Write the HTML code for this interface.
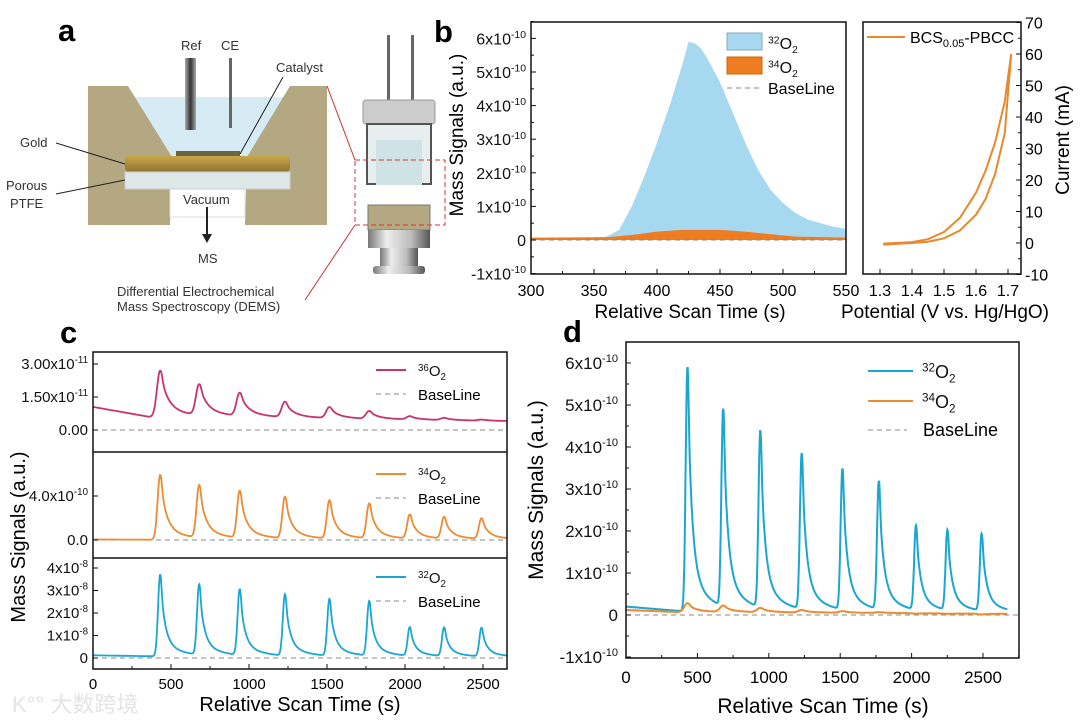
<!DOCTYPE html>
<html><head><meta charset="utf-8"><style>
html,body{margin:0;padding:0;background:#fff;width:1080px;height:723px;overflow:hidden}
svg{display:block;font-family:"Liberation Sans",Arial,sans-serif}
</style></head><body>
<svg id="fig" width="1080" height="723" viewBox="0 0 1080 723" xmlns="http://www.w3.org/2000/svg">
<defs>
<linearGradient id="gold" x1="0" y1="0" x2="0" y2="1"><stop offset="0" stop-color="#c9a64a"/><stop offset="1" stop-color="#8e7430"/></linearGradient>
<linearGradient id="ref" x1="0" y1="0" x2="1" y2="0"><stop offset="0" stop-color="#aaa"/><stop offset="0.5" stop-color="#333"/><stop offset="1" stop-color="#aaa"/></linearGradient>
<linearGradient id="metal" x1="0" y1="0" x2="1" y2="0"><stop offset="0" stop-color="#777"/><stop offset="0.3" stop-color="#eee"/><stop offset="0.7" stop-color="#bbb"/><stop offset="1" stop-color="#555"/></linearGradient>
<clipPath id="cTop"><rect x="93" y="352" width="414" height="100"/></clipPath>
<clipPath id="cMid"><rect x="93" y="452" width="414" height="106"/></clipPath>
<clipPath id="cBot"><rect x="93" y="558" width="414" height="111"/></clipPath>
</defs>

<g>
<text x="58" y="41" font-size="31" font-weight="bold">a</text>
<polygon points="108,97 310,97 255,157 162,157" fill="#d6ebf3"/>
<polygon points="88,86 128,86 172,157 170,225 88,225" fill="#b3a882"/>
<polygon points="290,86 327,86 327,225 245,225 247,157" fill="#b3a882"/>
<rect x="170" y="189" width="75" height="28" fill="#fff" stroke="#ddd"/>
<rect x="176" y="151" width="64" height="6" fill="#6b6440"/>
<rect x="125" y="156" width="165" height="16" rx="4" fill="url(#gold)"/>
<rect x="125" y="172" width="165" height="17" fill="#dfe8e8" stroke="#c8d2d2"/>
<rect x="185" y="58" width="11" height="72" fill="url(#ref)"/>
<rect x="229" y="58" width="3" height="70" fill="#666"/>
<text x="181" y="50" font-size="13" fill="#333">Ref</text>
<text x="221" y="50" font-size="13" fill="#333">CE</text>
<text x="276" y="72" font-size="13" fill="#333">Catalyst</text>
<line x1="240" y1="154" x2="283" y2="77" stroke="#222" stroke-width="1"/>
<text x="20" y="147" font-size="13" fill="#333">Gold</text>
<line x1="125" y1="164" x2="56" y2="143" stroke="#222"/>
<text x="6" y="190" font-size="13" fill="#333">Porous</text>
<text x="10" y="208" font-size="13" fill="#333">PTFE</text>
<line x1="125" y1="180" x2="56" y2="194" stroke="#222"/>
<text x="183" y="204" font-size="13" fill="#333">Vacuum</text>
<line x1="207" y1="207" x2="207" y2="236" stroke="#222" stroke-width="2"/>
<polygon points="202,234 212,234 207,243" fill="#222"/>
<text x="198" y="263" font-size="13" fill="#333">MS</text>
<text x="117" y="296" font-size="13" fill="#333">Differential Electrochemical</text>
<text x="117" y="311" font-size="13" fill="#333">Mass Spectroscopy (DEMS)</text>
<line x1="327" y1="86" x2="355" y2="160" stroke="#c33" stroke-width="1"/>
<line x1="305" y1="300" x2="355" y2="225" stroke="#c33" stroke-width="1"/>
<rect x="387" y="35" width="3" height="65" fill="#666"/><rect x="411" y="35" width="3" height="65" fill="#666"/>
<rect x="363" y="100" width="72" height="24" rx="3" fill="#ccc" stroke="#999"/>
<rect x="367" y="124" width="64" height="60" fill="#e6eef0" stroke="#555" stroke-width="2"/>
<rect x="376" y="140" width="46" height="45" fill="#cfe3e6"/>
<rect x="368" y="205" width="62" height="25" fill="#b3a882" stroke="#777"/>
<rect x="368" y="230" width="62" height="18" fill="url(#metal)"/>
<rect x="380" y="248" width="38" height="20" fill="url(#metal)"/>
<rect x="373" y="266" width="52" height="8" rx="3" fill="url(#metal)"/>
<rect x="355" y="160" width="90" height="65" fill="none" stroke="#d33" stroke-dasharray="5,3"/>
</g>

<g id="chartB"></g>
<g id="chartB2"></g>
<g id="chartC"></g>
<g id="chartD"></g>

<text x="12" y="712" font-size="22" fill="#e4e4e4" font-family="'Liberation Sans','Noto Sans CJK SC',sans-serif">K°° 大数跨境</text>
</svg>
<script>
const bTimes = [300,350,360,370,380,390,400,410,420,425,430,435,440,450,460,470,480,490,500,510,520,530,540,550];
const b32 = [0.07,0.08,0.1,0.3,1.0,1.9,2.9,4.0,5.2,5.9,5.85,5.7,5.4,4.7,3.8,2.9,2.1,1.5,1.1,0.8,0.6,0.5,0.4,0.33];
const b34Times = [300,360,380,400,420,450,470,490,510,550];
const b34 = [0.07,0.08,0.15,0.25,0.3,0.3,0.25,0.17,0.1,0.07];
const lsvFwdV = [1.31,1.35,1.4,1.45,1.5,1.55,1.6,1.63,1.66,1.69,1.71];
const lsvFwdI = [-0.5,-0.3,0,0.4,1.5,4,9,14,22,35,60];
const lsvRevV = [1.71,1.69,1.66,1.63,1.6,1.55,1.5,1.45,1.4,1.35,1.31];
const lsvRevI = [60,45,32,23,16,8,3.5,1.2,0.3,0,-0.2];
const peakTimes = [430,680,940,1230,1515,1770,2030,2250,2490];
const d32Peaks = [5.9,4.8,4.3,3.8,3.45,3.15,2.1,2.0,1.93];
const d34Peaks = [0.28,0.22,0.17,0.13,0.11,0.09,0.06,0.06,0.05];
const c36Peaks = [2.7,2.0,1.65,1.3,1.1,0.95,0.75,0.7,0.65];
const c34Peaks = [5.9,4.8,4.3,3.8,3.5,3.2,2.2,2.0,1.9];
const c32Peaks = [3.7,3.2,3.0,2.8,2.6,2.5,1.35,1.35,1.35];
const timeTicks = [0,500,1000,1500,2000,2500];
const NS='http://www.w3.org/2000/svg';
function mk(tag,attrs,parent,txt){const e=document.createElementNS(NS,tag);for(const k in attrs)e.setAttribute(k,attrs[k]);if(txt!==undefined)e.textContent=txt;parent.appendChild(e);return e;}
function sup(parent,x,y,base,exp,size,anchor){const t=mk('text',{x:x,y:y,'font-size':size,'text-anchor':anchor||'end',fill:'#111'},parent);
  const a=document.createElementNS(NS,'tspan');a.textContent=base;t.appendChild(a);
  const b=document.createElementNS(NS,'tspan');b.setAttribute('dy',-size*0.4);b.setAttribute('font-size',size*0.65);b.textContent=exp;t.appendChild(b);return t;}
function isoLabel(parent,x,y,mass,size){const t=mk('text',{x:x,y:y,'font-size':size,fill:'#111'},parent);
  const a=document.createElementNS(NS,'tspan');a.setAttribute('dy',-size*0.35);a.setAttribute('font-size',size*0.65);a.textContent=mass;t.appendChild(a);
  const b=document.createElementNS(NS,'tspan');b.setAttribute('dy',size*0.35);b.textContent='O';t.appendChild(b);
  const c=document.createElementNS(NS,'tspan');c.setAttribute('dy',size*0.25);c.setAttribute('font-size',size*0.65);c.textContent='2';t.appendChild(c);return t;}
function pulse(dt,rise,tau){if(dt<0)return Math.exp(-dt*dt/(2*rise*rise));const h=0.8*Math.exp(-dt/tau)+0.2*Math.exp(-dt/(tau*4));const r2=rise*0.5;const w=Math.exp(-dt*dt/(2*r2*r2));return w+(1-w)*h;}
function series(peaks,b0,b1,bEnd,rise,tau){const xs=[],ys=[];for(let t=0;t<=2670;t+=3){let base=t<360?b0+(b1-b0)*t/360:b1+(bEnd-b1)*(t-360)/2310;let v=base;peaks.forEach((p,i)=>{v+=(p-b1)*pulse(t-peakTimes[i],rise,tau);});xs.push(t);ys.push(v);}return [xs,ys];}
function pathD(xs,ys,sx,sy){return xs.map((x,i)=>(i?'L':'M')+sx(x).toFixed(1)+','+sy(ys[i]).toFixed(1)).join('');}

// Panel B
(function(){
const g=document.getElementById('chartB');
const sx=t=>531+(t-300)*1.26, sy=v=>240-v*33.6;
mk('text',{x:434,y:42,'font-size':31,'font-weight':'bold'},g,'b');
let d='M'+sx(300)+','+sy(0)+pathD(bTimes,b32,sx,sy).replace('M','L')+'L'+sx(550)+','+sy(0)+'Z';
let p=mk('path',{d:d,fill:'#a6d9ef'},g);
d='M'+sx(300)+','+sy(0)+pathD(b34Times,b34,sx,sy).replace('M','L')+'L'+sx(550)+','+sy(0)+'Z';
p=mk('path',{d:d,fill:'#ee7d22'},g);
mk('line',{x1:531,x2:846,y1:sy(0),y2:sy(0),stroke:'#888','stroke-dasharray':'5,4'},g);
mk('rect',{x:531,y:22,width:315,height:252,fill:'none',stroke:'#111','stroke-width':1.5},g);
for(let v=-1;v<=6;v++){mk('line',{x1:531,x2:536,y1:sy(v),y2:sy(v),stroke:'#111'},g);mk('line',{x1:531,x2:534,y1:sy(v+0.5),y2:sy(v+0.5),stroke:'#111'},g);
  sup(g,526,sy(v)+6,v===0?'0':(v+'x10'),v===0?'':'-10',16);}
for(let t=300;t<=550;t+=50){mk('line',{x1:sx(t),x2:sx(t),y1:274,y2:269,stroke:'#111'},g);if(t<550)mk('line',{x1:sx(t+25),x2:sx(t+25),y1:274,y2:271,stroke:'#111'},g);
  mk('text',{x:sx(t),y:296,'font-size':16,'text-anchor':'middle'},g,String(t));}
mk('text',{x:690,y:318,'font-size':19,'text-anchor':'middle'},g,'Relative Scan Time (s)');
mk('text',{x:0,y:0,'font-size':19,'text-anchor':'middle',transform:'translate(463,135) rotate(-90)'},g,'Mass Signals (a.u.)');
mk('rect',{x:727,y:33,width:35,height:17,fill:'#a6d9ef',stroke:'#8ab'},g);isoLabel(g,768,49,'32',16);
mk('rect',{x:727,y:57,width:35,height:17,fill:'#ee7d22',stroke:'#c60'},g);isoLabel(g,768,73,'34',16);
mk('line',{x1:727,x2:760,y1:88,y2:88,stroke:'#888','stroke-dasharray':'5,4'},g);mk('text',{x:768,y:94,'font-size':16},g,'BaseLine');
})();
(function(){
const g=document.getElementById('chartB2');
const sx=v=>880+(v-1.3)*320, sy=i=>243-i*3.15;
let p=mk('path',{d:pathD(lsvFwdV,lsvFwdI,sx,sy),fill:'none',stroke:'#e8892c','stroke-width':2},g);
p=mk('path',{d:pathD(lsvRevV,lsvRevI,sx,sy),fill:'none',stroke:'#e8892c','stroke-width':2},g);
mk('rect',{x:863,y:22,width:158,height:252,fill:'none',stroke:'#111','stroke-width':1.5},g);
for(let i=-10;i<=70;i+=10){mk('line',{x1:1021,x2:1016,y1:sy(i),y2:sy(i),stroke:'#111'},g);if(i<70)mk('line',{x1:1021,x2:1018,y1:sy(i+5),y2:sy(i+5),stroke:'#111'},g);
  mk('text',{x:1025,y:sy(i)+6,'font-size':16},g,String(i));}
for(let k=0;k<5;k++){const v=1.3+k*0.1;mk('line',{x1:sx(v),x2:sx(v),y1:274,y2:269,stroke:'#111'},g);mk('text',{x:sx(v),y:296,'font-size':16,'text-anchor':'middle'},g,v.toFixed(1));}
mk('text',{x:945,y:318,'font-size':19,'text-anchor':'middle'},g,'Potential (V vs. Hg/HgO)');
mk('text',{x:0,y:0,'font-size':19,'text-anchor':'middle',transform:'translate(1069,140) rotate(-90)'},g,'Current (mA)');
mk('line',{x1:867,x2:905,y1:37,y2:37,stroke:'#e8892c','stroke-width':2},g);
const t=mk('text',{x:910,y:43,'font-size':16},g);t.innerHTML='BCS<tspan dy="4" font-size="11">0.05</tspan><tspan dy="-4">-PBCC</tspan>';
})();

// Panel C
(function(){
const g=document.getElementById('chartC');
const sx=t=>93+t*0.156;
mk('text',{x:60,y:343,'font-size':31,'font-weight':'bold'},g,'c');
const subs=[
 {peaks:c36Peaks,b0:1.05,b1:0.6,bE:0.4,y0:430,k:22,col:'#c8336f',clip:'cTop',rise:20,tau:45,name:'o36-line',lab:'36',ly:370},
 {peaks:c34Peaks,b0:0.05,b1:0.03,bE:0.02,y0:540,k:11,col:'#ec8b33',clip:'cMid',rise:16,tau:35,name:'o34-line',lab:'34',ly:474},
 {peaks:c32Peaks,b0:0.12,b1:0.08,bE:0.04,y0:658,k:22.5,col:'#1aa6d2',clip:'cBot',rise:13,tau:28,name:'o32-line',lab:'32',ly:577}];
subs.forEach(s=>{const [xs,ys]=series(s.peaks,s.b0,s.b1,s.bE,s.rise,s.tau);
  mk('line',{x1:93,x2:507,y1:s.y0,y2:s.y0,stroke:'#888','stroke-dasharray':'5,4'},g);
  const p=mk('path',{d:pathD(xs,ys,sx,v=>s.y0-v*s.k),fill:'none',stroke:s.col,'stroke-width':1.8,'clip-path':'url(#'+s.clip+')'},g);
  
  mk('line',{x1:376,x2:406,y1:s.ly,y2:s.ly,stroke:s.col,'stroke-width':2},g);isoLabel(g,418,s.ly+6,s.lab,15);
  mk('line',{x1:376,x2:406,y1:s.ly+24,y2:s.ly+24,stroke:'#888','stroke-dasharray':'5,4'},g);mk('text',{x:418,y:s.ly+30,'font-size':15},g,'BaseLine');});
mk('rect',{x:93,y:352,width:414,height:317,fill:'none',stroke:'#111','stroke-width':1.5},g);
mk('line',{x1:93,x2:507,y1:452,y2:452,stroke:'#111','stroke-width':1.5},g);
mk('line',{x1:93,x2:507,y1:558,y2:558,stroke:'#111','stroke-width':1.5},g);
[[0,'0.00',''],[1.5,'1.50x10','-11'],[3,'3.00x10','-11']].forEach(a=>{const y=430-a[0]*22;mk('line',{x1:93,x2:98,y1:y,y2:y,stroke:'#111'},g);sup(g,88,y+5,a[1],a[2],15);});
[[0,'0.0',''],[4,'4.0x10','-10']].forEach(a=>{const y=540-a[0]*11;mk('line',{x1:93,x2:98,y1:y,y2:y,stroke:'#111'},g);sup(g,88,y+5,a[1],a[2],15);});
[0,1,2,3,4].forEach(v=>{const y=658-v*22.5;mk('line',{x1:93,x2:98,y1:y,y2:y,stroke:'#111'},g);sup(g,88,y+5,v?v+'x10':'0',v?'-8':'',15);});
timeTicks.forEach(t=>{mk('line',{x1:sx(t),x2:sx(t),y1:669,y2:664,stroke:'#111'},g);if(sx(t+250)<507)mk('line',{x1:sx(t+250),x2:sx(t+250),y1:669,y2:666,stroke:'#111'},g);
  mk('text',{x:sx(t),y:689,'font-size':15,'text-anchor':'middle'},g,String(t));});
mk('text',{x:300,y:711,'font-size':20,'text-anchor':'middle'},g,'Relative Scan Time (s)');
mk('text',{x:0,y:0,'font-size':20,'text-anchor':'middle',transform:'translate(25,537) rotate(-90)'},g,'Mass Signals (a.u.)');
})();

// Panel D
(function(){
const g=document.getElementById('chartD');
const sx=t=>626+t*0.1428, sy=v=>615-v*42;
mk('text',{x:563,y:342,'font-size':31,'font-weight':'bold'},g,'d');
mk('line',{x1:626,x2:1019,y1:sy(0),y2:sy(0),stroke:'#888','stroke-dasharray':'5,4'},g);
let [xs,ys]=series(d32Peaks,0.2,0.1,0.05,12,28);
let p=mk('path',{d:pathD(xs,ys,sx,sy),fill:'none',stroke:'#1aa6d2','stroke-width':2},g);
[xs,ys]=series(d34Peaks,0.12,0.07,0.03,22,45);
p=mk('path',{d:pathD(xs,ys,sx,sy),fill:'none',stroke:'#ec8b33','stroke-width':2},g);
mk('rect',{x:626,y:342,width:393,height:316,fill:'none',stroke:'#111','stroke-width':1.5},g);
for(let v=-1;v<=6;v++){mk('line',{x1:626,x2:631,y1:sy(v),y2:sy(v),stroke:'#111'},g);mk('line',{x1:626,x2:629,y1:sy(v+0.5),y2:sy(v+0.5),stroke:'#111'},g);
  sup(g,618,sy(v)+6,v===0?'0':(v+'x10'),v===0?'':'-10',17);}
timeTicks.forEach(t=>{mk('line',{x1:sx(t),x2:sx(t),y1:658,y2:653,stroke:'#111'},g);if(sx(t+250)<1019)mk('line',{x1:sx(t+250),x2:sx(t+250),y1:658,y2:655,stroke:'#111'},g);
  mk('text',{x:sx(t),y:683,'font-size':17,'text-anchor':'middle'},g,String(t));});
mk('text',{x:823,y:713,'font-size':21,'text-anchor':'middle'},g,'Relative Scan Time (s)');
mk('text',{x:0,y:0,'font-size':21,'text-anchor':'middle',transform:'translate(543,490) rotate(-90)'},g,'Mass Signals (a.u.)');
mk('line',{x1:868,x2:913,y1:371,y2:371,stroke:'#1aa6d2','stroke-width':2},g);isoLabel(g,922,378,'32',18);
mk('line',{x1:868,x2:913,y1:401,y2:401,stroke:'#ec8b33','stroke-width':2},g);isoLabel(g,922,408,'34',18);
mk('line',{x1:868,x2:907,y1:430,y2:430,stroke:'#888','stroke-dasharray':'5,4'},g);mk('text',{x:923,y:436,'font-size':18},g,'BaseLine');
})();
</script>
</body></html>
